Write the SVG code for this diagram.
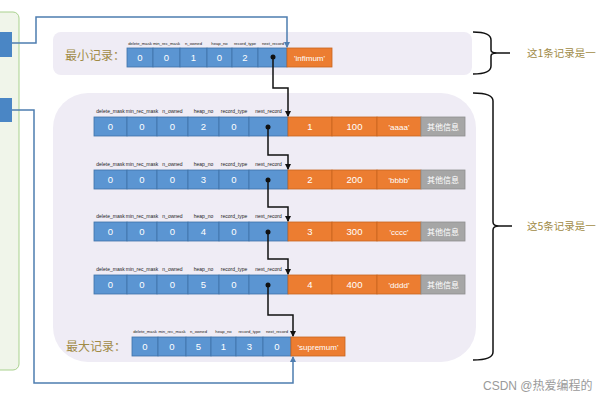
<svg xmlns="http://www.w3.org/2000/svg" width="600" height="400" viewBox="0 0 600 400">
<defs>
<style>
.panel{fill:#efecf5;}
.b{fill:#5b95d2;stroke:#3f72a8;stroke-width:0.8;}
.o{fill:#ec7d31;stroke:#c8641e;stroke-width:0.8;}
.g{fill:#a6a6a6;stroke:#8f8f8f;stroke-width:0.8;}
.v{font-family:"Liberation Sans","Noto Sans CJK SC",sans-serif;font-size:9.5px;fill:#ffffff;text-anchor:middle;}
.vc{font-family:"Noto Sans CJK SC",sans-serif;font-size:8px;fill:#ffffff;text-anchor:middle;}
.l{font-family:"Liberation Sans",sans-serif;font-size:5px;fill:#222;text-anchor:middle;}
.ls{font-family:"Liberation Sans",sans-serif;font-size:4.2px;fill:#222;text-anchor:middle;}
.t{font-family:"Noto Sans CJK SC",sans-serif;font-size:12px;fill:#a08a45;}
.s{font-family:"Noto Sans CJK SC",sans-serif;font-size:10.5px;fill:#a08a45;}
.k{fill:none;stroke:#111;stroke-width:1.5;}
.bl{fill:none;stroke:#4e7db0;stroke-width:1.5;}
.dot{fill:#111;}
</style>
<marker id="ak" markerWidth="6" markerHeight="6" refX="5" refY="3" orient="auto" markerUnits="userSpaceOnUse"><path d="M0,0 L6,3 L0,6 z" fill="#111"/></marker>
<marker id="ab" markerWidth="6" markerHeight="6" refX="5" refY="3" orient="auto" markerUnits="userSpaceOnUse"><path d="M0,0 L6,3 L0,6 z" fill="#4e7db0"/></marker>
</defs>
<rect width="600" height="400" fill="#ffffff"/>

<g id="left-page">
<rect x="-10" y="12" width="29" height="358" rx="6" fill="#f0f5ea" stroke="#a9d18e" stroke-width="1"/>
<rect x="0" y="32" width="12" height="25" fill="#4a86c5"/>
<rect x="0" y="98" width="12" height="24" fill="#4a86c5"/>
</g>

<g id="infimum-panel">
<rect class="panel" x="53" y="32" width="419" height="43" rx="8"/>
<text class="t" x="65" y="60">最小记录：</text>
<g id="infimum">
<rect class="b" x="127" y="48" width="26" height="19"/>
<rect class="b" x="153" y="48" width="27" height="19"/>
<rect class="b" x="180" y="48" width="27" height="19"/>
<rect class="b" x="207" y="48" width="25" height="19"/>
<rect class="b" x="232" y="48" width="26" height="19"/>
<rect class="b" x="258" y="48" width="29" height="19"/>
<rect class="o" x="287" y="48" width="45" height="19"/>
<text class="ls" x="140" y="45">delete_mask</text>
<text class="ls" x="166.5" y="45">min_rec_mask</text>
<text class="ls" x="193.5" y="45">n_owned</text>
<text class="ls" x="219.5" y="45">heap_no</text>
<text class="ls" x="245" y="45">record_type</text>
<text class="ls" x="273" y="45">next_record</text>
<text class="v" x="140" y="61">0</text>
<text class="v" x="166.5" y="61">0</text>
<text class="v" x="193.5" y="61">1</text>
<text class="v" x="219.5" y="61">0</text>
<text class="v" x="245" y="61">2</text>
<circle class="dot" cx="273" cy="57" r="2.5"/>
<text class="v" x="309.5" y="61" style="font-size:8px">'infimum'</text>
</g>
</g>

<g id="user-panel">
<rect class="panel" x="53" y="93" width="423" height="269" rx="35"/>
</g>

<g id="rec1">
<rect class="b" x="94" y="117" width="33" height="19"/><rect class="b" x="127" y="117" width="30" height="19"/><rect class="b" x="157" y="117" width="31" height="19"/><rect class="b" x="188" y="117" width="31" height="19"/><rect class="b" x="219" y="117" width="30" height="19"/><rect class="b" x="249" y="117" width="39" height="19"/>
<rect class="o" x="288" y="117" width="44" height="19"/><rect class="o" x="332" y="117" width="45" height="19"/><rect class="o" x="377" y="117" width="44" height="19"/><rect class="g" x="421" y="117" width="44" height="19"/>
<text class="l" x="110.5" y="113">delete_mask</text><text class="l" x="142" y="113">min_rec_mask</text><text class="l" x="172.5" y="113">n_owned</text><text class="l" x="203.5" y="113">heap_no</text><text class="l" x="234" y="113">record_type</text><text class="l" x="268.5" y="113">next_record</text>
<text class="v" x="110.5" y="130">0</text><text class="v" x="142" y="130">0</text><text class="v" x="172.5" y="130">0</text><text class="v" x="203.5" y="130">2</text><text class="v" x="234" y="130">0</text>
<circle class="dot" cx="268" cy="127" r="2.5"/>
<text class="v" x="310" y="130">1</text><text class="v" x="354.5" y="130">100</text><text class="v" x="399" y="130" style="font-size:8px">'aaaa'</text><text class="vc" x="443" y="130">其他信息</text>
</g>

<g id="rec2">
<rect class="b" x="94" y="170" width="33" height="19"/><rect class="b" x="127" y="170" width="30" height="19"/><rect class="b" x="157" y="170" width="31" height="19"/><rect class="b" x="188" y="170" width="31" height="19"/><rect class="b" x="219" y="170" width="30" height="19"/><rect class="b" x="249" y="170" width="39" height="19"/>
<rect class="o" x="288" y="170" width="44" height="19"/><rect class="o" x="332" y="170" width="45" height="19"/><rect class="o" x="377" y="170" width="44" height="19"/><rect class="g" x="421" y="170" width="44" height="19"/>
<text class="l" x="110.5" y="166">delete_mask</text><text class="l" x="142" y="166">min_rec_mask</text><text class="l" x="172.5" y="166">n_owned</text><text class="l" x="203.5" y="166">heap_no</text><text class="l" x="234" y="166">record_type</text><text class="l" x="268.5" y="166">next_record</text>
<text class="v" x="110.5" y="183">0</text><text class="v" x="142" y="183">0</text><text class="v" x="172.5" y="183">0</text><text class="v" x="203.5" y="183">3</text><text class="v" x="234" y="183">0</text>
<circle class="dot" cx="268" cy="180" r="2.5"/>
<text class="v" x="310" y="183">2</text><text class="v" x="354.5" y="183">200</text><text class="v" x="399" y="183" style="font-size:8px">'bbbb'</text><text class="vc" x="443" y="183">其他信息</text>
</g>

<g id="rec3">
<rect class="b" x="94" y="222" width="33" height="19"/><rect class="b" x="127" y="222" width="30" height="19"/><rect class="b" x="157" y="222" width="31" height="19"/><rect class="b" x="188" y="222" width="31" height="19"/><rect class="b" x="219" y="222" width="30" height="19"/><rect class="b" x="249" y="222" width="39" height="19"/>
<rect class="o" x="288" y="222" width="44" height="19"/><rect class="o" x="332" y="222" width="45" height="19"/><rect class="o" x="377" y="222" width="44" height="19"/><rect class="g" x="421" y="222" width="44" height="19"/>
<text class="l" x="110.5" y="218">delete_mask</text><text class="l" x="142" y="218">min_rec_mask</text><text class="l" x="172.5" y="218">n_owned</text><text class="l" x="203.5" y="218">heap_no</text><text class="l" x="234" y="218">record_type</text><text class="l" x="268.5" y="218">next_record</text>
<text class="v" x="110.5" y="235">0</text><text class="v" x="142" y="235">0</text><text class="v" x="172.5" y="235">0</text><text class="v" x="203.5" y="235">4</text><text class="v" x="234" y="235">0</text>
<circle class="dot" cx="268" cy="232" r="2.5"/>
<text class="v" x="310" y="235">3</text><text class="v" x="354.5" y="235">300</text><text class="v" x="399" y="235" style="font-size:8px">'cccc'</text><text class="vc" x="443" y="235">其他信息</text>
</g>

<g id="rec4">
<rect class="b" x="94" y="275" width="33" height="19"/><rect class="b" x="127" y="275" width="30" height="19"/><rect class="b" x="157" y="275" width="31" height="19"/><rect class="b" x="188" y="275" width="31" height="19"/><rect class="b" x="219" y="275" width="30" height="19"/><rect class="b" x="249" y="275" width="39" height="19"/>
<rect class="o" x="288" y="275" width="44" height="19"/><rect class="o" x="332" y="275" width="45" height="19"/><rect class="o" x="377" y="275" width="44" height="19"/><rect class="g" x="421" y="275" width="44" height="19"/>
<text class="l" x="110.5" y="271">delete_mask</text><text class="l" x="142" y="271">min_rec_mask</text><text class="l" x="172.5" y="271">n_owned</text><text class="l" x="203.5" y="271">heap_no</text><text class="l" x="234" y="271">record_type</text><text class="l" x="268.5" y="271">next_record</text>
<text class="v" x="110.5" y="288">0</text><text class="v" x="142" y="288">0</text><text class="v" x="172.5" y="288">0</text><text class="v" x="203.5" y="288">5</text><text class="v" x="234" y="288">0</text>
<circle class="dot" cx="268" cy="285" r="2.5"/>
<text class="v" x="310" y="288">4</text><text class="v" x="354.5" y="288">400</text><text class="v" x="399" y="288" style="font-size:8px">'dddd'</text><text class="vc" x="443" y="288">其他信息</text>
</g>

<g id="supremum">
<text class="t" x="66" y="351">最大记录：</text>
<rect class="b" x="132" y="337" width="26" height="19"/><rect class="b" x="158" y="337" width="28" height="19"/><rect class="b" x="186" y="337" width="25" height="19"/><rect class="b" x="211" y="337" width="25" height="19"/><rect class="b" x="236" y="337" width="27" height="19"/><rect class="b" x="263" y="337" width="28" height="19"/>
<rect class="o" x="291" y="337" width="54" height="19"/>
<text class="ls" x="145" y="333">delete_mask</text><text class="ls" x="172" y="333">min_rec_mask</text><text class="ls" x="198.5" y="333">n_owned</text><text class="ls" x="223.5" y="333">heap_no</text><text class="ls" x="249.5" y="333">record_type</text><text class="ls" x="277" y="333">next_record</text>
<text class="v" x="145" y="350">0</text><text class="v" x="172" y="350">0</text><text class="v" x="198.5" y="350">5</text><text class="v" x="223.5" y="350">1</text><text class="v" x="249.5" y="350">3</text><text class="v" x="277" y="350">0</text>
<text class="v" x="318" y="350" style="font-size:8px">'supremum'</text>
</g>

<g id="braces">
<path class="k" d="M473,32 Q491,32 491,40 L491,50 Q491,53 497,53 L510,53 M497,53 Q491,53 491,56 L491,66 Q491,74 473,74"/>
<path class="k" d="M473,93 Q493,93 493,101 L493,222 Q493,226 499,226 L512,226 M499,226 Q493,226 493,230 L493,352 Q493,360 473,360"/>
<text class="s" x="527" y="57">这1条记录是一</text>
<text class="s" x="527" y="230">这5条记录是一</text>
</g>

<g id="connectors">
<path class="bl" d="M12,43 L36,43 L36,17 L287,17 L287,47" marker-end="url(#ab)"/>
<path class="bl" d="M12,110 L34,110 L34,383 L293,383 L293,357" marker-end="url(#ab)"/>
<path class="k" d="M273,57 L273,88 L288,88 L288,116" marker-end="url(#ak)"/>
<path class="k" d="M268,127 L268,155 L288,155 L288,169" marker-end="url(#ak)"/>
<path class="k" d="M268,180 L268,207 L288,207 L288,221" marker-end="url(#ak)"/>
<path class="k" d="M268,232 L268,259 L288,259 L288,274" marker-end="url(#ak)"/>
<path class="k" d="M268,285 L268,315 L293,315 L293,336" marker-end="url(#ak)"/>
</g>

<text x="483" y="390" style="font-family:'Liberation Sans','Noto Sans CJK SC',sans-serif;font-size:12px;fill:#9a9a9a">CSDN @热爱编程的</text>
</svg>
